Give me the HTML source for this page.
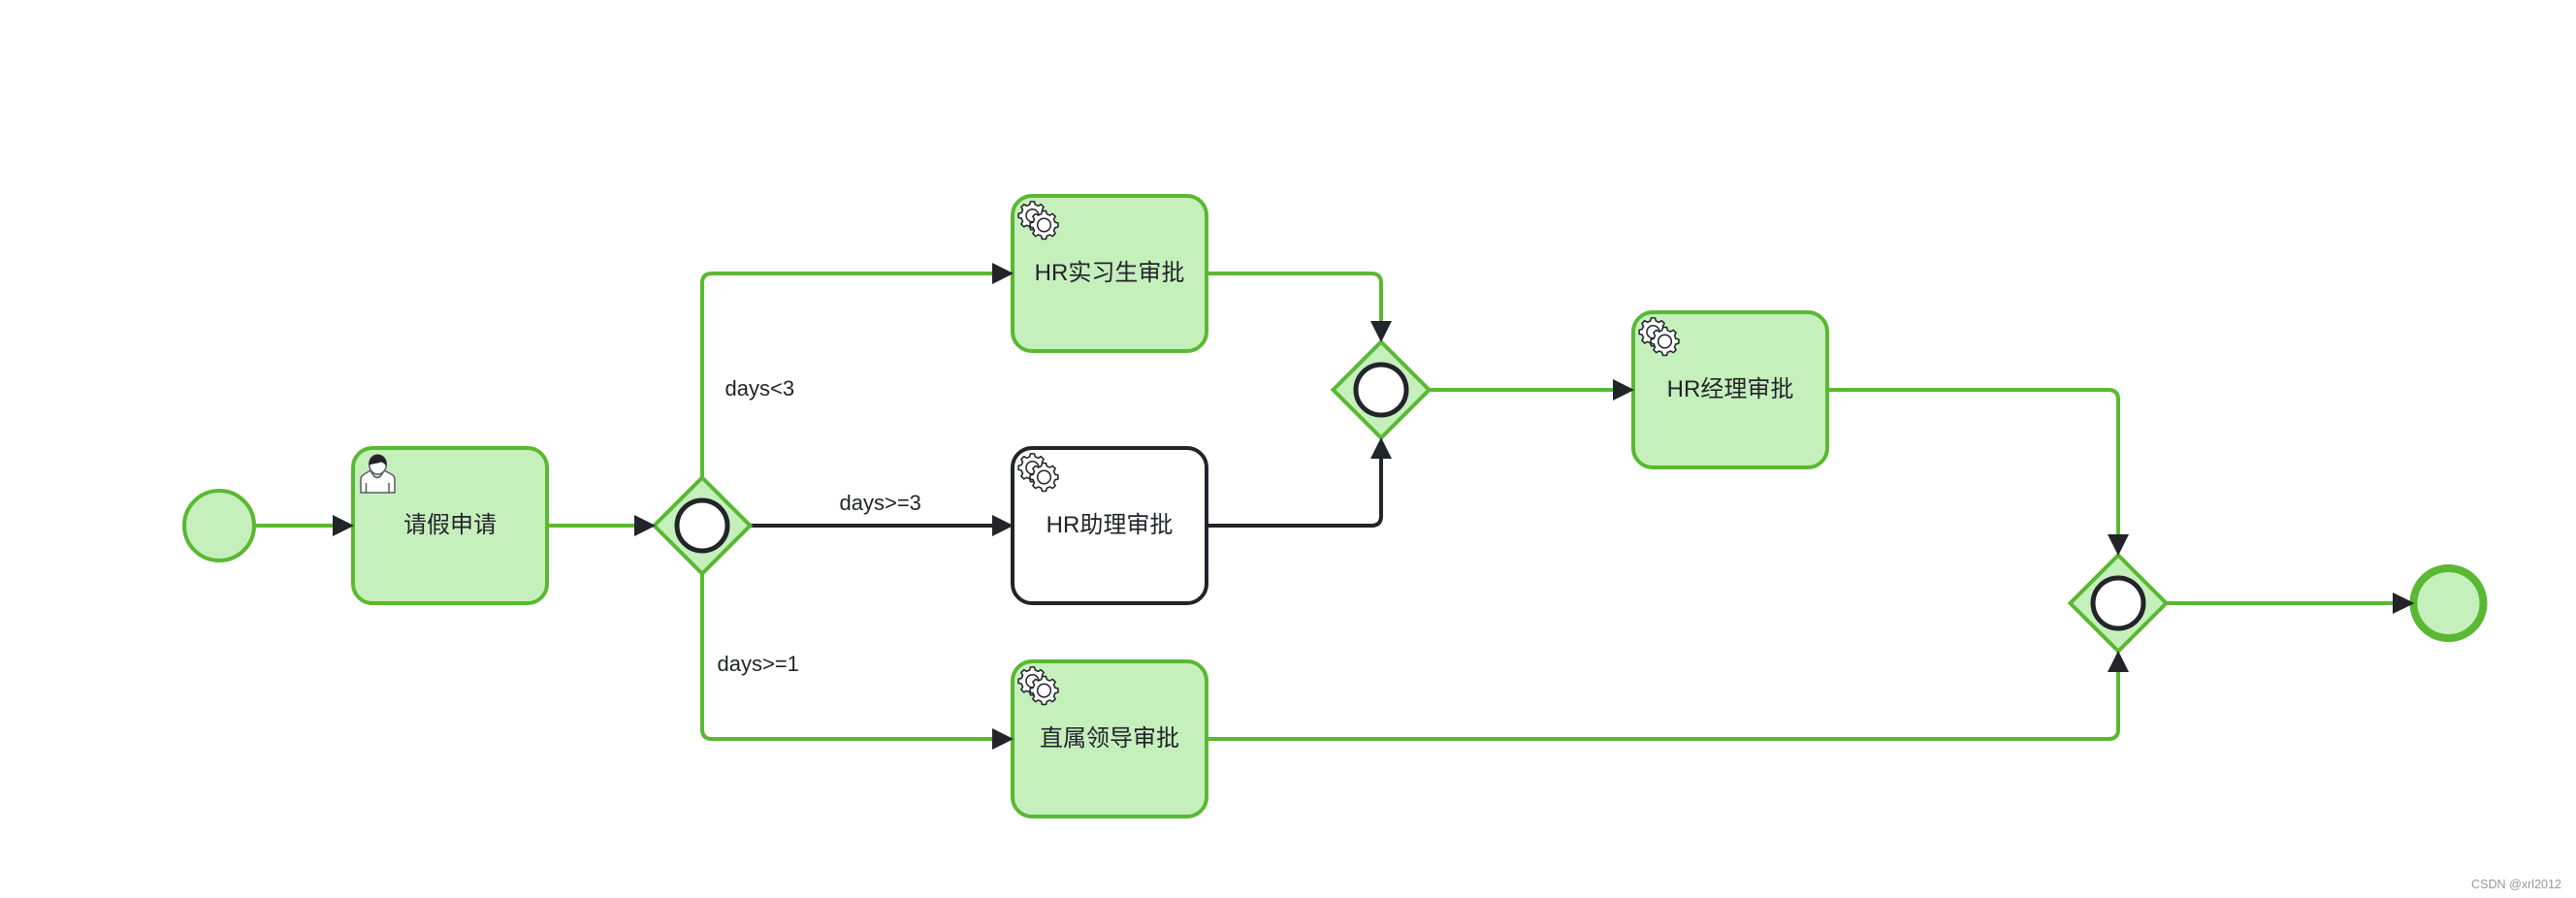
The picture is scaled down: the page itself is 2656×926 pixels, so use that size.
<!DOCTYPE html>
<html lang="zh">
<head>
<meta charset="utf-8">
<title>BPMN</title>
<style>
html,body{margin:0;padding:0;background:#fff;width:2656px;height:926px;overflow:hidden}
svg{display:block}
text{font-family:"Liberation Sans","Noto Sans CJK SC",sans-serif;fill:#22242a}
.g{stroke:#5ab832;fill:none;stroke-width:4}
.k{stroke:#22242a;fill:none;stroke-width:4}
.task{fill:#c5f0bc;stroke:#5ab832;stroke-width:4}
.gw{fill:#c5f0bc;stroke:#5ab832;stroke-width:4;stroke-linejoin:miter}
.ring{fill:#fff;stroke:#22242a;stroke-width:5}
.a{fill:#22242a;stroke:none}
.t{font-size:24px;text-anchor:middle}
.l{font-size:22px}
</style>
</head>
<body>
<svg width="2656" height="926" viewBox="0 0 2656 926" xmlns="http://www.w3.org/2000/svg">
<defs>
<polygon id="gear" points="10.87,-2.71 13.86,-1.95 13.86,1.95 10.87,2.71 9.6,5.77 11.18,8.43 8.43,11.18 5.77,9.6 2.71,10.87 1.95,13.86 -1.95,13.86 -2.71,10.87 -5.77,9.6 -8.43,11.18 -11.18,8.43 -9.6,5.77 -10.87,2.71 -13.86,1.95 -13.86,-1.95 -10.87,-2.71 -9.6,-5.77 -11.18,-8.43 -8.43,-11.18 -5.77,-9.6 -2.71,-10.87 -1.95,-13.86 1.95,-13.86 2.71,-10.87 5.77,-9.6 8.43,-11.18 11.18,-8.43 9.6,-5.77"/>
<g id="gears">
<use href="#gear" transform="translate(20.5,20.3) scale(1.04)" fill="#fff" stroke="#22242a" stroke-width="1.5" stroke-linejoin="round"/>
<circle cx="20.5" cy="20.3" r="6.5" fill="#fff" stroke="#22242a" stroke-width="1.5"/>
<use href="#gear" transform="translate(32.5,30) scale(1.04)" fill="#fff" stroke="#22242a" stroke-width="1.5" stroke-linejoin="round"/>
<circle cx="32.5" cy="30" r="6.8" fill="#fff" stroke="#22242a" stroke-width="1.5"/>
</g>
</defs>

<!-- connectors -->
<path class="g" d="M262 542H345"/>
<path class="g" d="M564 542H656"/>
<path class="g" d="M724 492V292Q724 282 734 282H1025"/>
<path class="k" d="M774 542H1025"/>
<path class="g" d="M724 592V752Q724 762 734 762H1025"/>
<path class="g" d="M1244 282H1414Q1424 282 1424 292V333"/>
<path class="k" d="M1244 542H1414Q1424 542 1424 532V471"/>
<path class="g" d="M1474 402H1665"/>
<path class="g" d="M1884 402H2174Q2184 402 2184 412V553"/>
<path class="g" d="M1244 762H2174Q2184 762 2184 752V691"/>
<path class="g" d="M2234 622H2469"/>

<!-- events -->
<circle cx="226" cy="542" r="36" fill="#c5f0bc" stroke="#5ab832" stroke-width="4"/>
<circle cx="2524.5" cy="622" r="36" fill="#c5f0bc" stroke="#5ab832" stroke-width="8"/>

<!-- tasks -->
<rect class="task" x="364" y="462" width="200" height="160" rx="20" ry="20"/>
<rect class="task" x="1044" y="202" width="200" height="160" rx="20" ry="20"/>
<rect x="1044" y="462" width="200" height="160" rx="20" ry="20" fill="#fff" stroke="#22242a" stroke-width="4"/>
<rect class="task" x="1044" y="682" width="200" height="160" rx="20" ry="20"/>
<rect class="task" x="1684" y="322" width="200" height="160" rx="20" ry="20"/>

<!-- user icon -->
<g stroke="#5a5c62" stroke-width="1.5" fill="#fff">
<path d="M372 508V494Q372 491 375.5 489L382 485Q389 500 396 485L403.5 489Q407 491 407 494V508Z"/>
<path d="M377.5 498V508M401 498V508" fill="none"/>
<ellipse cx="389.5" cy="479" rx="8.8" ry="10"/>
</g>
<path fill="#22242a" d="M380.5 480C379.5 473 384 469 389.5 469C395 469 399.5 473 398.5 481C396 477 393 476 391 477C387 478.5 383 478 380.5 480Z"/>

<!-- gear icons -->
<use href="#gears" x="1044" y="202"/>
<use href="#gears" x="1044" y="462"/>
<use href="#gears" x="1044" y="682"/>
<use href="#gears" x="1684" y="322"/>

<!-- gateways -->
<polygon class="gw" points="724,492.5 773.5,542 724,591.5 674.5,542"/>
<circle class="ring" cx="724" cy="542" r="26"/>
<polygon class="gw" points="1424,352.5 1473.5,402 1424,451.5 1374.5,402"/>
<circle class="ring" cx="1424" cy="402" r="26"/>
<polygon class="gw" points="2184,572.5 2233.5,622 2184,671.5 2134.5,622"/>
<circle class="ring" cx="2184" cy="622" r="26"/>

<!-- arrowheads -->
<polygon class="a" points="343,531 365,542 343,553"/>
<polygon class="a" points="654,531 676,542 654,553"/>
<polygon class="a" points="1023,271 1045,282 1023,293"/>
<polygon class="a" points="1023,531 1045,542 1023,553"/>
<polygon class="a" points="1023,751 1045,762 1023,773"/>
<polygon class="a" points="1413,331 1435,331 1424,353"/>
<polygon class="a" points="1413,473 1435,473 1424,451"/>
<polygon class="a" points="1663,391 1685,402 1663,413"/>
<polygon class="a" points="2173,551 2195,551 2184,573"/>
<polygon class="a" points="2173,693 2195,693 2184,671"/>
<polygon class="a" points="2467,611 2489.5,622 2467,633"/>

<!-- task labels -->
<text class="t" x="464" y="549">请假申请</text>
<text class="t" x="1144" y="289">HR实习生审批</text>
<text class="t" x="1144" y="549">HR助理审批</text>
<text class="t" x="1144" y="769">直属领导审批</text>
<text class="t" x="1784" y="409">HR经理审批</text>

<!-- flow labels -->
<text class="l" x="747.5" y="408">days&lt;3</text>
<text class="l" x="865.5" y="526">days&gt;=3</text>
<text class="l" x="739.5" y="692">days&gt;=1</text>

<!-- watermark -->
<text x="2548" y="916" font-size="13" textLength="93" lengthAdjust="spacingAndGlyphs" style="fill:#999">CSDN @xrl2012</text>
</svg>
</body>
</html>
